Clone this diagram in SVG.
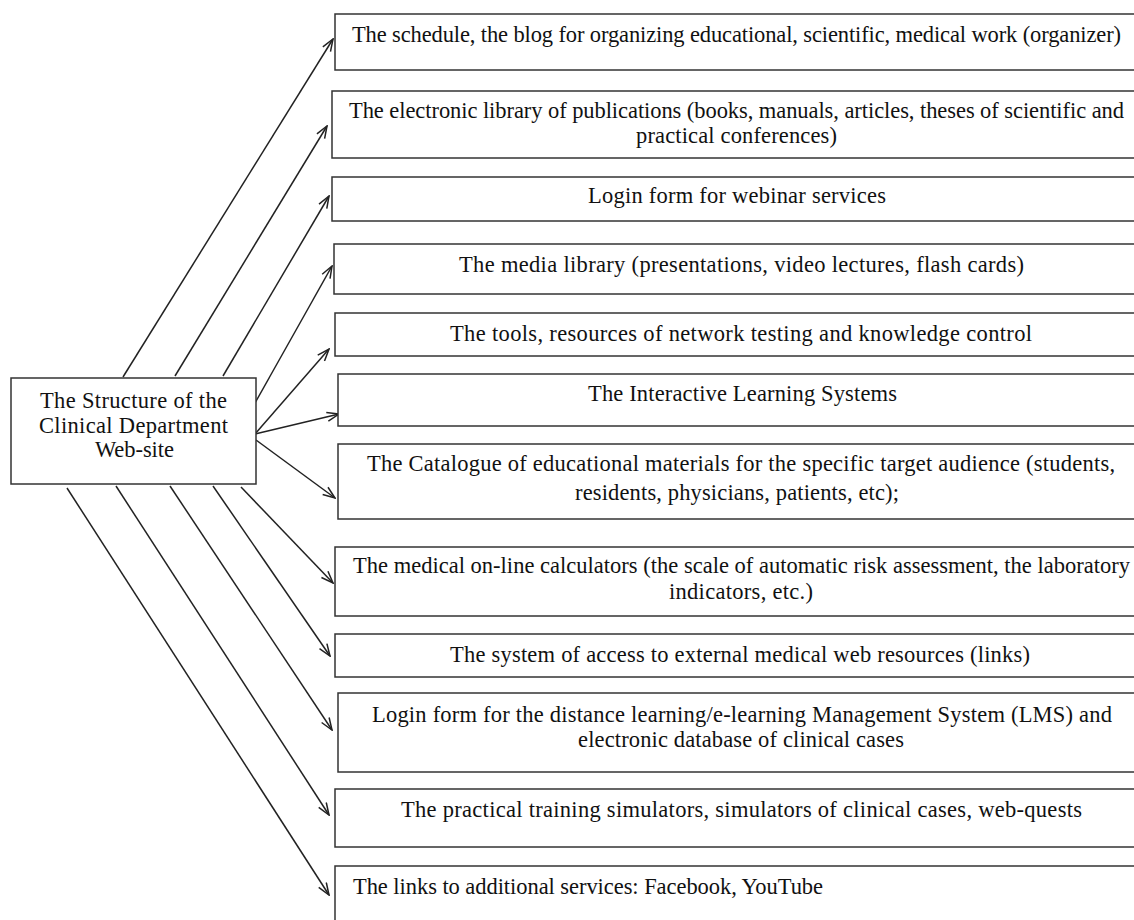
<svg xmlns="http://www.w3.org/2000/svg" width="1134" height="920" viewBox="0 0 1134 920">
<style>
  .box { fill: #ffffff; stroke: #333333; stroke-width: 1.5; }
  .t { font-family: "Liberation Serif", "Times New Roman", serif; font-size: 22.5px; fill: #111111; }
  .conn line { stroke: #222222; stroke-width: 1.5; marker-end: url(#arr); }
</style>
<defs>
  <marker id="arr" viewBox="0 0 14 11" refX="13" refY="5.5" markerWidth="14" markerHeight="11" orient="auto" markerUnits="userSpaceOnUse">
    <path d="M1,1 L13,5.5 L1,10" fill="none" stroke="#222222" stroke-width="1.5"/>
  </marker>
</defs>
<rect width="1134" height="920" fill="#ffffff"/>

<g id="connectors" class="conn">
  <line x1="123" y1="377" x2="333" y2="39"/>
  <line x1="175" y1="376" x2="327" y2="126"/>
  <line x1="223" y1="376" x2="329" y2="196"/>
  <line x1="255" y1="403" x2="332" y2="266"/>
  <line x1="255" y1="434" x2="329" y2="349"/>
  <line x1="255" y1="434" x2="339" y2="414"/>
  <line x1="256" y1="440" x2="335" y2="498"/>
  <line x1="241" y1="487" x2="333" y2="583"/>
  <line x1="213" y1="486" x2="330" y2="656"/>
  <line x1="170" y1="486" x2="332" y2="730"/>
  <line x1="116" y1="486" x2="329" y2="815"/>
  <line x1="67" y1="488" x2="329" y2="895"/>
</g>

<g id="center">
  <rect class="box" x="11" y="378" width="245" height="106"/>
  <text class="t" x="40" y="408" textLength="187">The Structure of the</text>
  <text class="t" x="39" y="433" textLength="189">Clinical Department</text>
  <text class="t" x="95" y="457" textLength="79">Web-site</text>
</g>

<g id="n1">
  <rect class="box" x="335" y="14" width="810" height="56"/>
  <text class="t" x="352" y="42" textLength="769">The schedule, the blog for organizing educational, scientific, medical work (organizer)</text>
</g>
<g id="n2">
  <rect class="box" x="332" y="91" width="813" height="67"/>
  <text class="t" x="349" y="118" textLength="775">The electronic library of publications (books, manuals, articles, theses of scientific and</text>
  <text class="t" x="636" y="143" textLength="201">practical conferences)</text>
</g>
<g id="n3">
  <rect class="box" x="332" y="177" width="813" height="44"/>
  <text class="t" x="588" y="203" textLength="298">Login form for webinar services</text>
</g>
<g id="n4">
  <rect class="box" x="334" y="244" width="811" height="50"/>
  <text class="t" x="459" y="272" textLength="565">The media library (presentations, video lectures, flash cards)</text>
</g>
<g id="n5">
  <rect class="box" x="335" y="313" width="810" height="43"/>
  <text class="t" x="450" y="341" textLength="582">The tools, resources of network testing and knowledge control</text>
</g>
<g id="n6">
  <rect class="box" x="338" y="374" width="807" height="52"/>
  <text class="t" x="588" y="401" textLength="309">The Interactive Learning Systems</text>
</g>
<g id="n7">
  <rect class="box" x="338" y="444" width="807" height="75"/>
  <text class="t" x="367" y="471" textLength="748">The Catalogue of educational materials for the specific target audience (students,</text>
  <text class="t" x="575" y="500" textLength="324">residents, physicians, patients, etc);</text>
</g>
<g id="n8">
  <rect class="box" x="335" y="547" width="810" height="69"/>
  <text class="t" x="353" y="573" textLength="777">The medical on-line calculators (the scale of automatic risk assessment, the laboratory</text>
  <text class="t" x="669" y="599" textLength="144">indicators, etc.)</text>
</g>
<g id="n9">
  <rect class="box" x="335" y="634" width="810" height="43"/>
  <text class="t" x="450" y="662" textLength="580">The system of access to external medical web resources (links)</text>
</g>
<g id="n10">
  <rect class="box" x="338" y="693" width="807" height="79"/>
  <text class="t" x="372" y="722" textLength="740">Login form for the distance learning/e-learning Management System (LMS) and</text>
  <text class="t" x="578" y="747" textLength="326">electronic database of clinical cases</text>
</g>
<g id="n11">
  <rect class="box" x="335" y="789" width="810" height="58"/>
  <text class="t" x="401" y="817" textLength="681">The practical training simulators, simulators of clinical cases, web-quests</text>
</g>
<g id="n12">
  <rect class="box" x="335" y="866" width="810" height="70"/>
  <text class="t" x="353" y="894" textLength="470">The links to additional services: Facebook, YouTube</text>
</g>
</svg>
